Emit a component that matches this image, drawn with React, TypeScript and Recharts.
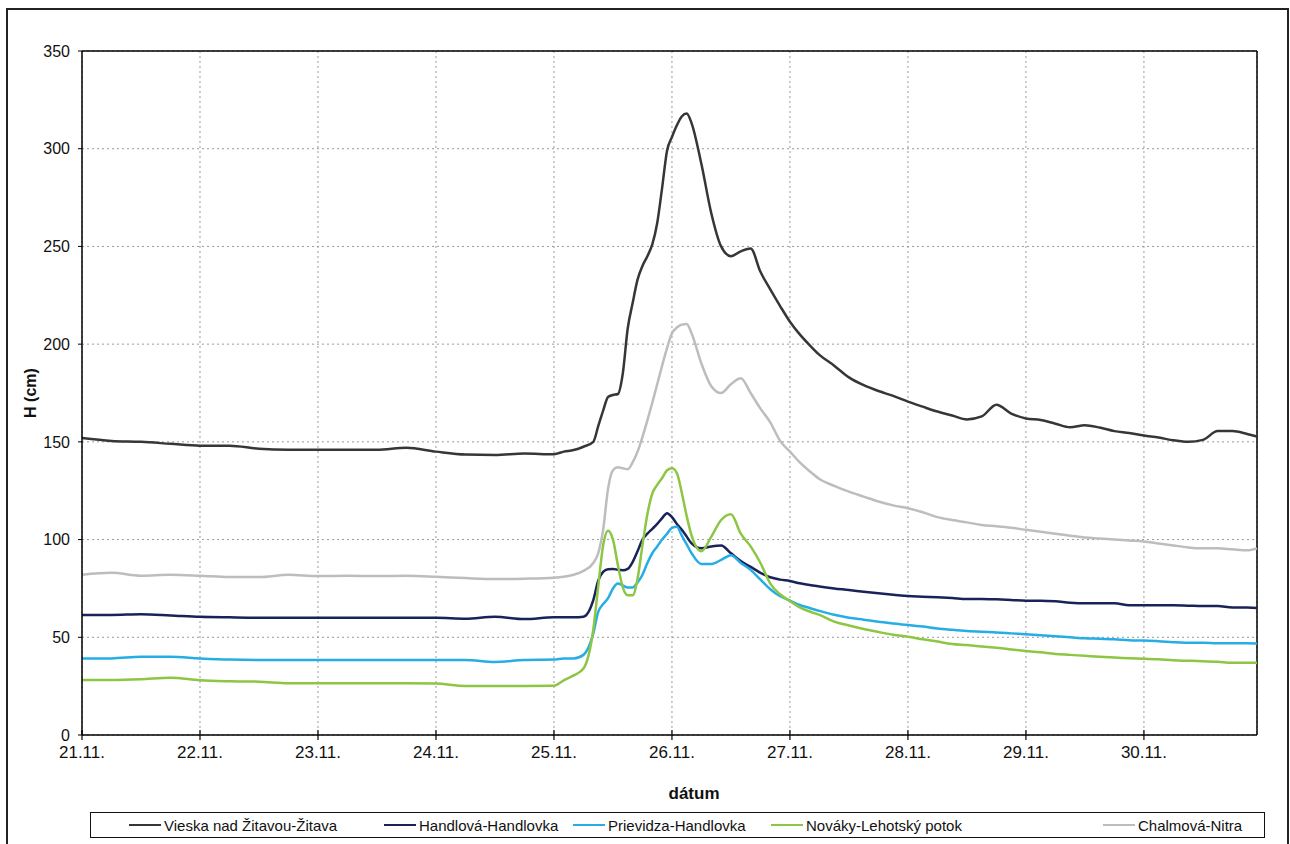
import React from "react";
import { LineChart, Line, XAxis, YAxis, CartesianGrid, ReferenceLine, Legend } from "recharts";

// hours since 21.11. 00:00
const TIMES = [
  0, 6, 12, 18, 24, 30, 36, 42, 48, 54, 60, 66, 72, 78, 84, 90, 96,
  98, 100, 102,
  104, 105, 106, 107, 108, 109, 110, 111, 112, 113, 114, 115, 116, 117, 118, 119, 120, 121, 122, 123, 124,
  126, 128, 130, 132, 134, 136, 138, 140, 142, 144, 146, 148, 150,
  153, 156, 159, 162, 165, 168, 171, 174, 177, 180, 183, 186, 189, 192, 195, 198, 201, 204, 207, 210,
  213, 216, 219, 222, 225, 228, 231, 234, 237, 239,
];

const VIESKA = [
  152, 150.5, 150, 149, 148, 148, 146.5, 146, 146, 146, 146, 147, 145, 143.5, 143.3, 144, 143.7,
  145, 145.8, 147.5,
  150, 158, 166, 173, 174, 174.5, 185, 208, 221, 233, 240, 245, 251, 262, 280, 299, 306, 312, 316.5, 318, 313,
  292, 267, 250, 245, 247.5, 249, 237, 228, 219.5, 211.5, 205, 199.5, 194.5,
  189, 183, 179, 176, 173.5, 170.6, 168, 165.5, 163.5, 161.5, 163, 169, 164.5, 162, 161.2, 159.3, 157.5, 158.5, 157.3, 155.5,
  154.5, 153.2, 152.2, 150.8, 150, 151, 155.5, 155.5, 154, 152.7,
];

const HANDLOVA = [
  61.4, 61.4, 61.8, 61.2, 60.5, 60.2, 60, 60, 60, 60, 60, 60, 60, 59.5, 60.5, 59.3, 60.2,
  60.2, 60.2, 60.5,
  69, 79, 83.5, 84.8, 85, 84.5, 84.3, 85, 88.5, 94, 100, 103, 105.5, 108, 111, 113.5, 111.5, 108, 105, 101.5, 98,
  95.5, 96.5, 97, 93, 89, 86, 83, 80.7, 79.5, 78.8, 77.6, 76.8, 76,
  75, 74.2, 73.3, 72.5, 71.8, 71.1, 70.8, 70.5, 70.1, 69.6, 69.6, 69.4, 69.1, 68.7, 68.7, 68.4, 67.7, 67.4, 67.4, 67.4,
  66.4, 66.4, 66.4, 66.4, 66.2, 66, 66, 65.2, 65.2, 65,
];

const PRIEVIDZA = [
  39.2, 39.2, 40, 40, 39.2, 38.6, 38.4, 38.4, 38.4, 38.4, 38.4, 38.4, 38.4, 38.4, 37.4, 38.4, 38.6,
  39.2, 39.2, 41,
  52, 63, 67, 70, 75, 77.5, 76.5, 75.5, 75.5, 78, 82, 88, 93, 96.5, 100, 103, 106, 106.5, 102, 97.5, 93,
  87.5, 87.5, 89.6, 92, 88, 84.5, 79.5, 74.6, 71, 68.8, 66.5, 65, 63.5,
  61.5, 60, 59, 58, 57, 56.3, 55.5, 54.5, 53.8, 53.2, 52.8, 52.5, 52, 51.5, 51, 50.5, 50, 49.5, 49.3, 49,
  48.5, 48.3, 48, 47.5, 47.2, 47.2, 47, 47, 47, 46.8,
];

const NOVAKY = [
  28.1, 28.1, 28.5, 29.3, 28, 27.5, 27.3, 26.5, 26.5, 26.5, 26.5, 26.5, 26.3, 25.1, 25.1, 25.1, 25.2,
  28, 30.5, 34,
  54, 76, 97, 104.5, 100, 87, 75.5, 71.5, 71.5, 80, 97, 113, 123.5, 128, 131.5, 135.5, 136.5, 134, 124, 112, 102,
  94, 101.5, 110, 113, 103, 96.5, 88, 77.5, 72, 68.5, 65.3, 63.2, 61.5,
  58, 56, 54.2, 52.7, 51.3, 50.3, 49, 47.8, 46.6, 46, 45.3, 44.6, 43.8, 43, 42.3, 41.5, 41, 40.5, 40, 39.6,
  39.3, 39, 38.7, 38.2, 38, 37.8, 37.5, 37, 37, 37,
];

const CHALMOVA = [
  82, 83, 81.5, 82, 81.5, 80.8, 80.8, 82, 81.3, 81.5, 81.3, 81.5, 81, 80.3, 79.8, 80, 80.5,
  81, 82, 84,
  88, 93, 105, 126, 135.5, 137, 136.5, 136, 139.5, 145, 152.5, 161, 170, 179.5, 189, 198, 205.5, 208.5, 210, 210.3, 205.5,
  190, 178.5, 175, 179.5, 182.5, 175, 167, 160, 150.5, 145, 139.5, 135, 131,
  127.5, 124.5, 122, 119.5, 117.5, 116, 114, 111.5, 110, 108.8, 107.5, 106.8, 106, 105, 104, 103, 102, 101, 100.5, 100,
  99.5, 99, 98, 97, 96, 95.5, 95.5, 95, 94.5, 95.5,
];

const DAY_LABELS = ["21.11.", "22.11.", "23.11.", "24.11.", "25.11.", "26.11.", "27.11.", "28.11.", "29.11.", "30.11."];
const DAY_TICKS = DAY_LABELS.map((_, i) => i * 24);
const Y_TICKS = [0, 50, 100, 150, 200, 250, 300, 350];

const SERIES_KEYS = ["vieska", "handlova", "prievidza", "novaky", "chalmova"];
const SERIES_NAMES = ["Vieska nad Žitavou-Žitava", "Handlová-Handlovka", "Prievidza-Handlovka", "Nováky-Lehotský potok", "Chalmová-Nitra"];
const SERIES_COLORS = ["#363636", "#19235a", "#27ade6", "#8cc642", "#bdbdbd"];
const SERIES_VALUES = [VIESKA, HANDLOVA, PRIEVIDZA, NOVAKY, CHALMOVA];

const data = TIMES.map((t, i) => {
  const row: Record<string, number> = { t };
  SERIES_KEYS.forEach((k, j) => { row[k] = SERIES_VALUES[j][i]; });
  return row;
});

const FONT = '"Liberation Sans", Arial, sans-serif';
// legend item offsets inside the legend box
const LEGEND_LEFT = [38, 293, 482, 680, 1012];

const XTick = (props: any) => {
  const { x, y, payload } = props;
  return (
    <g>
      <line x1={x} x2={x} y1={y - 10} y2={y} stroke="#000" strokeWidth={1.2} />
      <text x={x} y={y + 6} dy="0.71em" textAnchor="middle" fill="#111" fontSize={17} fontFamily={FONT}>
        {DAY_LABELS[Math.round(payload.value / 24)]}
      </text>
    </g>
  );
};

const renderLegend = () => (
  <div style={{ position: "relative", width: 1175, height: 26, border: "1.5px solid #111", boxSizing: "border-box", background: "#fff", fontFamily: FONT, fontSize: 15, color: "#111" }}>
    {SERIES_NAMES.map((name, i) => (
      <div key={name} style={{ position: "absolute", left: LEGEND_LEFT[i], top: 0, height: "100%", display: "flex", alignItems: "center", whiteSpace: "nowrap" }}>
        <span style={{ display: "inline-block", width: 32, borderTop: `2.5px solid ${SERIES_COLORS[i]}`, marginRight: 3 }} />
        <span>{name}</span>
      </div>
    ))}
  </div>
);

export default function App() {
  return (
    <div style={{ position: "absolute", left: 0, top: 0, width: 1290, height: 844, overflow: "hidden", background: "#fff", fontFamily: FONT }}>
      <div style={{ position: "absolute", left: 6, top: 8, width: 1283, height: 850, border: "2px solid #222", boxSizing: "border-box" }} />
      <div style={{ position: "absolute", left: 0, top: 0 }}>
        <LineChart width={1290} height={844} data={data} margin={{ top: 51, right: 33, left: 22, bottom: 79 }}>
          <CartesianGrid stroke="#9a9a9a" strokeDasharray="2 3" />
          <XAxis
            dataKey="t"
            type="number"
            domain={[0, 239]}
            ticks={DAY_TICKS}
            interval={0}
            height={30}
            tickSize={5}
            tickMargin={0}
            tickLine={false}
            axisLine={{ stroke: "#000", strokeWidth: 1.5 }}
            tick={XTick}
            label={{
              content: () => (
                <text x={694} y={793} textAnchor="middle" dominantBaseline="central" fontWeight="bold" fontSize={17} fontFamily={FONT} fill="#111">
                  dátum
                </text>
              ),
            }}
          />
          <YAxis
            type="number"
            domain={[0, 350]}
            ticks={Y_TICKS}
            interval={0}
            width={60}
            tickSize={4}
            tickMargin={8}
            axisLine={{ stroke: "#000", strokeWidth: 1.5 }}
            tickLine={{ stroke: "#000" }}
            tick={{ fill: "#111", fontSize: 16, fontFamily: FONT }}
            label={{
              content: (p: any) => {
                const cx = 30;
                const cy = p.viewBox ? p.viewBox.y + p.viewBox.height / 2 : 393;
                return (
                  <text x={cx} y={cy} transform={`rotate(-90 ${cx} ${cy})`} textAnchor="middle" dominantBaseline="central" fontWeight="bold" fontSize={16} fontFamily={FONT} fill="#111">
                    H (cm)
                  </text>
                );
              },
            }}
          />
          <ReferenceLine y={350} stroke="#000" strokeWidth={1.5} />
          <ReferenceLine x={239} stroke="#000" strokeWidth={1.5} />
          {SERIES_KEYS.map((k, i) => (
            <Line
              key={k}
              dataKey={k}
              name={SERIES_NAMES[i]}
              type="monotone"
              stroke={SERIES_COLORS[i]}
              strokeWidth={2.5}
              dot={false}
              activeDot={false}
              isAnimationActive={false}
            />
          ))}
          <Legend
            layout="horizontal"
            verticalAlign="middle"
            align="center"
            wrapperStyle={{ left: 90, top: 812, width: 1175, height: 26 }}
            content={renderLegend}
          />
        </LineChart>
      </div>
    </div>
  );
}
